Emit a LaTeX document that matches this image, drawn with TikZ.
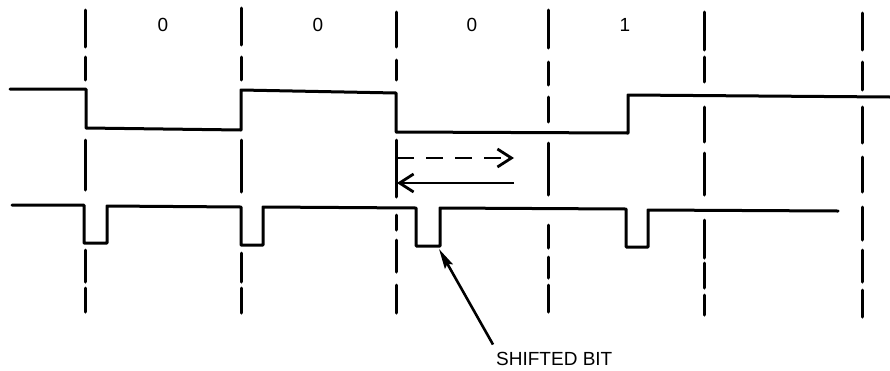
\documentclass[tikz,border=0pt]{standalone}
\usepackage{fontspec}
\setmainfont{Liberation Sans}
\usetikzlibrary{arrows.meta}
\begin{document}
\begin{tikzpicture}[x=1pt,y=-1pt,
  wave/.style={line width=3pt, line join=round, line cap=round},
  gridline/.style={line width=3pt, line cap=round},
  lbl/.style={font=\fontsize{19}{22}\selectfont, inner sep=0pt},
  shiftarrow/.style={line width=2.8pt, -{Straight Barb[length=14pt,width=18pt,line width=2.8pt]}},
  pointer/.style={line width=2.6pt, -{Stealth[length=20pt,width=9pt,inset=3pt]}}]
\useasboundingbox (0,0) rectangle (890,370);
% vertical dashed bit boundaries
\foreach \x/\segs in {85/{10/47,57/80,140/190,250/282,288/312},
                      241/{8/45,57/80,140/192,253/282,288/313},
                      396/{12/47,60/80,140/197,215/230,240/272,285/313},
                      548/{10/48,62/85,97/122,143/195,225/248,257/278,285/312},
                      704/{12/50,57/82,107/142,153/195,220/258,263/288,295/315},
                      862/{13/50,62/90,107/143,157/192,207/240,250/282,290/317}}{
  \foreach \a/\b in \segs { \draw[gridline] (\x,\a) -- (\x,\b); }
}
% bit values
\node[lbl] (b1) at (163,25) {0};
\node[lbl] (b2) at (318,25) {0};
\node[lbl] (b3) at (472,25) {0};
\node[lbl] (b4) at (625,25) {1};
% upper waveform
\draw[wave] (10,89) -- (86,89) -- (86,128) -- (241,130) -- (241,90) -- (396,93)
  -- (396,132) -- (628,133) -- (628,95) -- (890,97);
% lower waveform
\draw[wave] (12,205) -- (84,205) -- (84,243) -- (107,243) -- (107,206) -- (241,207)
  -- (241,245) -- (263,245) -- (263,207) -- (416,208) -- (416,246) -- (440,246)
  -- (440,208) -- (626,209) -- (626,247) -- (648,247) -- (648,210) -- (838,211);
% shift arrows
\coordinate (sa1) at (397,158);
\coordinate (sa2) at (514,158);
\coordinate (sb1) at (514,183);
\coordinate (sb2) at (397,183);
\draw[shiftarrow, dash pattern=on 17pt off 12pt] (sa1) -- (sa2);
\draw[shiftarrow] (sb1) -- (sb2);
% shifted bit label
\coordinate (tip) at (439,249);
\node[lbl, anchor=base west] (sb) at (496,365) {SHIFTED BIT};
\draw[pointer] ([shift={(-3,-7)}]sb.north west) -- (tip);
\end{tikzpicture}
\end{document}
